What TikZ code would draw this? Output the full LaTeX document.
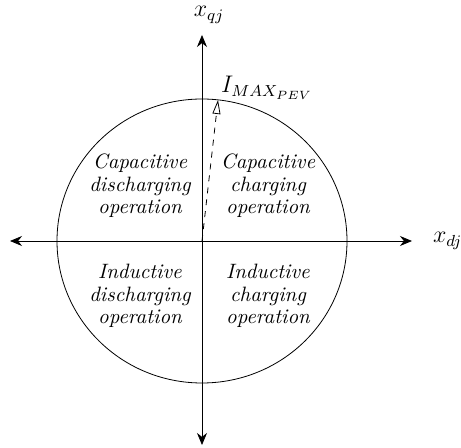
\documentclass[tikz,border=0pt]{standalone}
\usepackage{amsmath, amssymb}
\usetikzlibrary{arrows.meta, positioning}

\begin{document}
\begin{tikzpicture}[x=0.5pt, y=-0.5pt,
    axis/.style={-{Stealth[length=6pt, width=5pt]}, thin},
    region/.style={align=center, font=\fontsize{10.4}{11.2}\selectfont\itshape},
    lbl/.style={font=\fontsize{12}{14}\selectfont}]
  \useasboundingbox (0,0) rectangle (461,448);
  \coordinate (O) at (202,241);
  \coordinate (west) at (10,241);
  \coordinate (east) at (412,241);
  \coordinate (north) at (202,35);
  \coordinate (south) at (202,445);
  \coordinate (Imax) at (218,100);

  \draw (O) circle [x radius=145, y radius=142];
  \draw[axis] (O) -- (east);
  \draw[axis] (O) -- (west);
  \draw[axis] (O) -- (north);
  \draw[axis] (O) -- (south);
  \draw[dashed, -{Triangle[open, length=7pt, width=4pt]}] (O) -- (Imax);

  \node[lbl, anchor=west] (xd) at (426,241) {$x_{dj}$};
  \node[lbl] (xq) at (209,15) {$x_{qj}$};
  \node[lbl, anchor=base west] (imax) at (214,93) {$I_{MAX_{PEV}}$};

  \node[region] (capdis) at (140,186) {Capacitive\\discharging\\operation};
  \node[region] (capch) at (268,186) {Capacitive\\charging\\operation};
  \node[region] (inddis) at (140,296) {Inductive\\discharging\\operation};
  \node[region] (indch) at (268,296) {Inductive\\charging\\operation};
\end{tikzpicture}
\end{document}
